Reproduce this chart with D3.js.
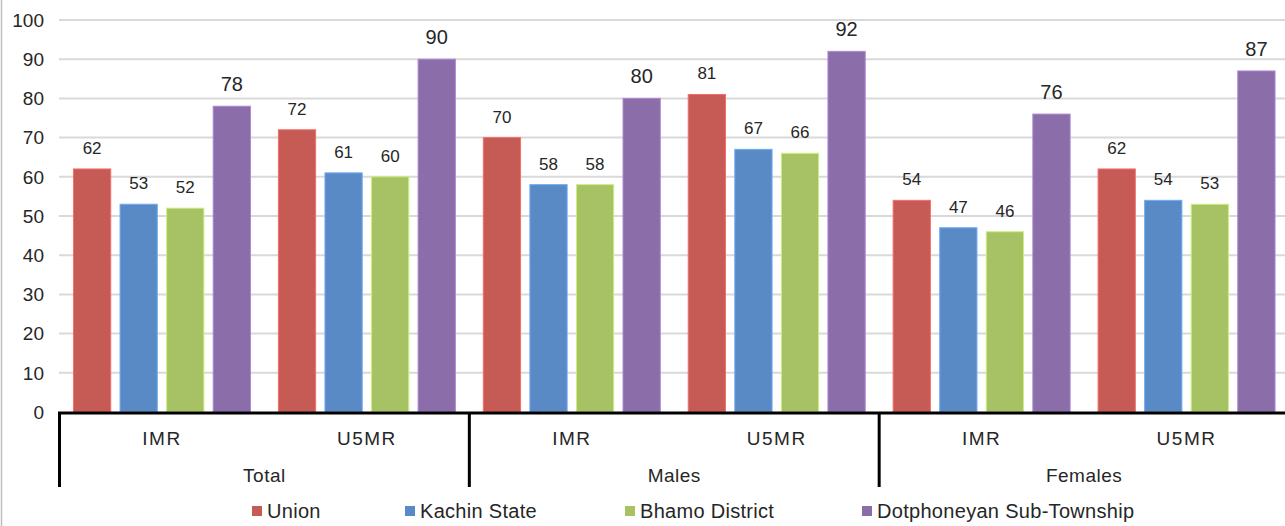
<html>
<script src="https://d3js.org/d3.v7.min.js"></script>
<style>
  body { margin: 0; background: #fff; }
  text { font-family: "Liberation Sans", Arial, sans-serif; fill: #262626; }
</style>
<body>
</body>
<script>
    var width = 1285, height = 526;

    // data
    let groups = ["Total", "Males", "Females"];
    let indicators = ["IMR", "U5MR"];
    let series = ["Union", "Kachin State", "Bhamo District", "Dotphoneyan Sub-Township"];
    let union      = [62, 72, 70, 81, 54, 62];
    let kachin     = [53, 61, 58, 67, 47, 54];
    let bhamo      = [52, 60, 58, 66, 46, 53];
    let dotphoneyan = [78, 90, 80, 92, 76, 87];
    let yTicks = [0, 10, 20, 30, 40, 50, 60, 70, 80, 90, 100];

    let values = [union, kachin, bhamo, dotphoneyan];
    let colors = ["#c65a55", "#5a8ac5", "#a6c264", "#8b6daa"];

    // categories: one per group x indicator
    let cats = [];
    groups.forEach(g => indicators.forEach(ind => cats.push(g + "|" + ind)));

    let svg = d3.select("body").append("svg")
        .attr("width", width)
        .attr("height", height);

    // chart border on the left
    svg.append("line")
        .attr("x1", 1.5).attr("x2", 1.5)
        .attr("y1", 0).attr("y2", height)
        .attr("stroke", "#bfbfbf").attr("stroke-width", 1.5);

    let y = d3.scaleLinear().domain([0, 100]).range([412, 20]);

    let x0 = d3.scaleBand().domain(cats).range([59.5, 1289]);
    let x1 = d3.scaleBand().domain(series).range([0, x0.bandwidth()])
        .paddingInner(0.2).paddingOuter(0.3);
    let xGroup = d3.scaleBand().domain(groups).range([59.5, 1289]);

    // gridlines
    svg.append("g").selectAll("line")
        .data(yTicks.filter(t => t > 0))
        .join("line")
        .attr("x1", 59).attr("x2", width)
        .attr("y1", d => y(d)).attr("y2", d => y(d))
        .attr("stroke", "#d9d9d9").attr("stroke-width", 2);

    // y tick labels
    svg.append("g").selectAll("text")
        .data(yTicks)
        .join("text")
        .attr("x", 44)
        .attr("y", d => y(d))
        .attr("dy", "0.36em")
        .attr("text-anchor", "end")
        .attr("font-size", 19)
        .text(d => d);

    // bars + labels
    series.forEach((s, si) => {
        let g = svg.append("g");
        g.selectAll("rect")
            .data(values[si])
            .join("rect")
            .attr("x", (d, i) => x0(cats[i]) + x1(s))
            .attr("width", x1.bandwidth())
            .attr("y", d => y(d))
            .attr("height", d => y(0) - y(d))
            .attr("fill", colors[si])
            .attr("stroke", d3.color(colors[si]).brighter(0.6))
            .attr("stroke-width", 1);

        g.selectAll("text")
            .data(values[si])
            .join("text")
            .attr("x", (d, i) => x0(cats[i]) + x1(s) + x1.bandwidth() / 2)
            .attr("y", d => y(d) - 15)
            .attr("text-anchor", "middle")
            .attr("font-size", si === 3 ? 20 : 17)
            .text(d => d);
    });

    // category axis
    svg.append("line")
        .attr("x1", 58).attr("x2", width)
        .attr("y1", 413).attr("y2", 413)
        .attr("stroke", "#000").attr("stroke-width", 3);

    svg.append("g").selectAll("line")
        .data(groups)
        .join("line")
        .attr("x1", d => xGroup(d)).attr("x2", d => xGroup(d))
        .attr("y1", 412).attr("y2", 487)
        .attr("stroke", "#000").attr("stroke-width", 3);

    svg.append("g").selectAll("text")
        .data(cats)
        .join("text")
        .attr("x", d => x0(d) + x0.bandwidth() / 2)
        .attr("y", 445)
        .attr("text-anchor", "middle")
        .attr("font-size", 19)
        .attr("letter-spacing", 1.5)
        .text(d => d.split("|")[1]);

    svg.append("g").selectAll("text")
        .data(groups)
        .join("text")
        .attr("x", d => xGroup(d) + xGroup.bandwidth() / 2)
        .attr("y", 482)
        .attr("text-anchor", "middle")
        .attr("font-size", 19)
        .attr("letter-spacing", 0.5)
        .text(d => d);

    // legend
    let legendX = [252, 405, 625, 862];
    let legend = svg.append("g").selectAll("g")
        .data(series)
        .join("g")
        .attr("transform", (d, i) => "translate(" + legendX[i] + ",506)");
    legend.append("rect")
        .attr("width", 10).attr("height", 10)
        .attr("fill", (d, i) => colors[i]);
    legend.append("text")
        .attr("x", 15).attr("y", 5)
        .attr("dy", "0.36em")
        .attr("font-size", 20)
        .attr("letter-spacing", 0.3)
        .text(d => d);
</script>
</html>
